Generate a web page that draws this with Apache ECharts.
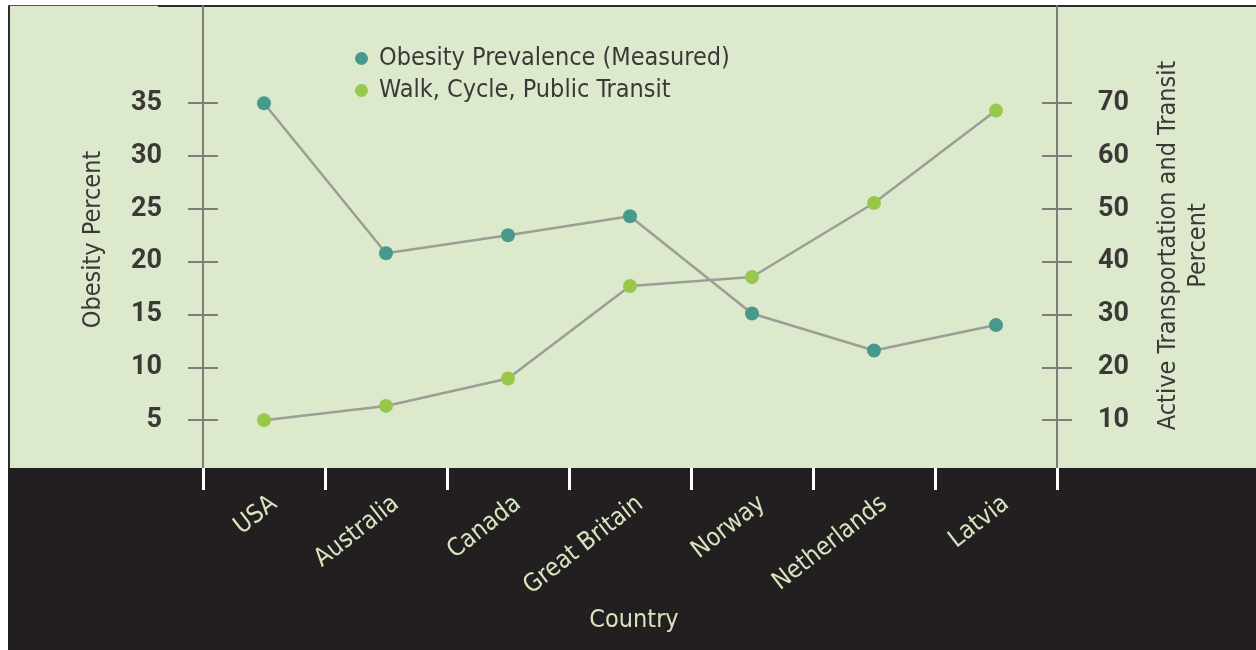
<!DOCTYPE html>
<html>
<head>
<meta charset="utf-8">
<script src="https://cdn.jsdelivr.net/npm/echarts@6/dist/echarts.min.js"></script>
<style>
html,body{margin:0;padding:0;background:#ffffff;}
#chart{width:1256px;height:650px;}
</style>
</head>
<body>
<div id="chart"></div>
<script>
const categories = ['USA', 'Australia', 'Canada', 'Great Britain', 'Norway', 'Netherlands', 'Latvia'];
const obesity = [35.0, 20.8, 22.5, 24.3, 15.1, 11.6, 14.0];
const activeTransport = [10.0, 12.7, 17.9, 35.4, 37.1, 51.1, 68.6];
const leftTicks = [5, 10, 15, 20, 25, 30, 35];
const rightTicks = [10, 20, 30, 40, 50, 60, 70];

const FONT = "'DejaVu Sans Condensed', 'Liberation Sans Narrow', sans-serif";
const NUM_FONT = "Roboto, 'Liberation Sans', sans-serif";
const AXIS_GREY = '#7f7c7a';
const TEXT_DARK = '#3b3838';
const LIGHT_GREEN_TEXT = '#d5e5bf';

const chart = echarts.init(document.getElementById('chart'), null, {renderer: 'canvas'});

function valueAxis(pos, max, ticks, withLabels, inside, name, nameGap, namePadding) {
  return {
    type: 'value',
    position: pos,
    min: 0,
    max: max,
    name: withLabels ? name : '',
    nameLocation: 'middle',
    nameRotate: 90,
    nameGap: nameGap,
    nameTextStyle: {fontFamily: FONT, fontSize: 25, color: TEXT_DARK, lineHeight: 30, align: 'center', padding: namePadding},
    axisLine: {show: withLabels, lineStyle: {color: AXIS_GREY, width: 2}},
    axisTick: {show: true, inside: inside, length: 15, customValues: ticks, lineStyle: {color: AXIS_GREY, width: 2}},
    axisLabel: {show: withLabels, customValues: ticks, margin: 41, fontFamily: NUM_FONT, fontWeight: 'bold', fontSize: 27, color: TEXT_DARK},
    splitLine: {show: false}
  };
}

const option = {
  backgroundColor: '#ffffff',
  animation: false,
  graphic: [
    {type: 'rect', z: -100, shape: {x: 8, y: 6, width: 1248, height: 462}, style: {fill: '#dde9cc'}},
    {type: 'rect', z: -100, shape: {x: 8, y: 468, width: 1248, height: 182}, style: {fill: '#231f20'}},
    {type: 'line', z: -99, shape: {x1: 9, y1: 5, x2: 9, y2: 468}, style: {stroke: '#2f2c2c', lineWidth: 2}},
    {type: 'line', z: -99, shape: {x1: 8, y1: 5.5, x2: 158, y2: 5.5}, style: {stroke: '#555252', lineWidth: 1}},
    {type: 'line', z: -99, shape: {x1: 158, y1: 6, x2: 1256, y2: 6}, style: {stroke: '#2f2c2c', lineWidth: 2}}
  ],
  legend: {
    orient: 'vertical',
    left: 355,
    top: 46,
    padding: 0,
    itemGap: 7,
    icon: 'circle',
    itemWidth: 25,
    itemHeight: 13,
    textStyle: {fontFamily: FONT, fontSize: 25, color: TEXT_DARK},
    data: ['Obesity Prevalence (Measured)', 'Walk, Cycle, Public Transit']
  },
  grid: {left: 203, right: 199, top: 6, bottom: 177, containLabel: false},
  xAxis: {
    type: 'category',
    data: categories,
    boundaryGap: true,
    offset: -5,
    axisLine: {show: false},
    axisTick: {show: true, length: 22, alignWithLabel: false, lineStyle: {color: '#ffffff', width: 3}},
    axisLabel: {rotate: 38, margin: 20, verticalAlign: 'top', padding: [4, 0, 0, 0], fontFamily: FONT, fontSize: 25, color: LIGHT_GREEN_TEXT, interval: 0},
    name: 'Country',
    nameLocation: 'middle',
    nameGap: 140,
    nameTextStyle: {fontFamily: FONT, fontSize: 25, color: LIGHT_GREEN_TEXT, verticalAlign: 'top', padding: [0, 0, 0, 8]},
    splitLine: {show: false}
  },
  yAxis: [
    valueAxis('left', 44.2, leftTicks, true, false, 'Obesity Percent', 95, [0, 0, 0, 0]),
    valueAxis('right', 88.4, rightTicks, true, false, 'Active Transportation and Transit\nPercent', 96, [0, 12, 0, 0]),
    valueAxis('left', 44.2, leftTicks, false, true, '', 0, 0),
    valueAxis('right', 88.4, rightTicks, false, true, '', 0, 0)
  ],
  series: [
    {
      name: 'Obesity Prevalence (Measured)',
      type: 'line',
      yAxisIndex: 0,
      data: obesity,
      symbol: 'circle',
      symbolSize: 14,
      lineStyle: {color: '#9a9e95', width: 2.5},
      itemStyle: {color: '#479a8b'},
      z: 3
    },
    {
      name: 'Walk, Cycle, Public Transit',
      type: 'line',
      yAxisIndex: 1,
      data: activeTransport,
      symbol: 'circle',
      symbolSize: 14,
      lineStyle: {color: '#9a9e95', width: 2.5},
      itemStyle: {color: '#97c84b'},
      z: 3
    }
  ]
};
chart.setOption(option);
</script>
</body>
</html>
